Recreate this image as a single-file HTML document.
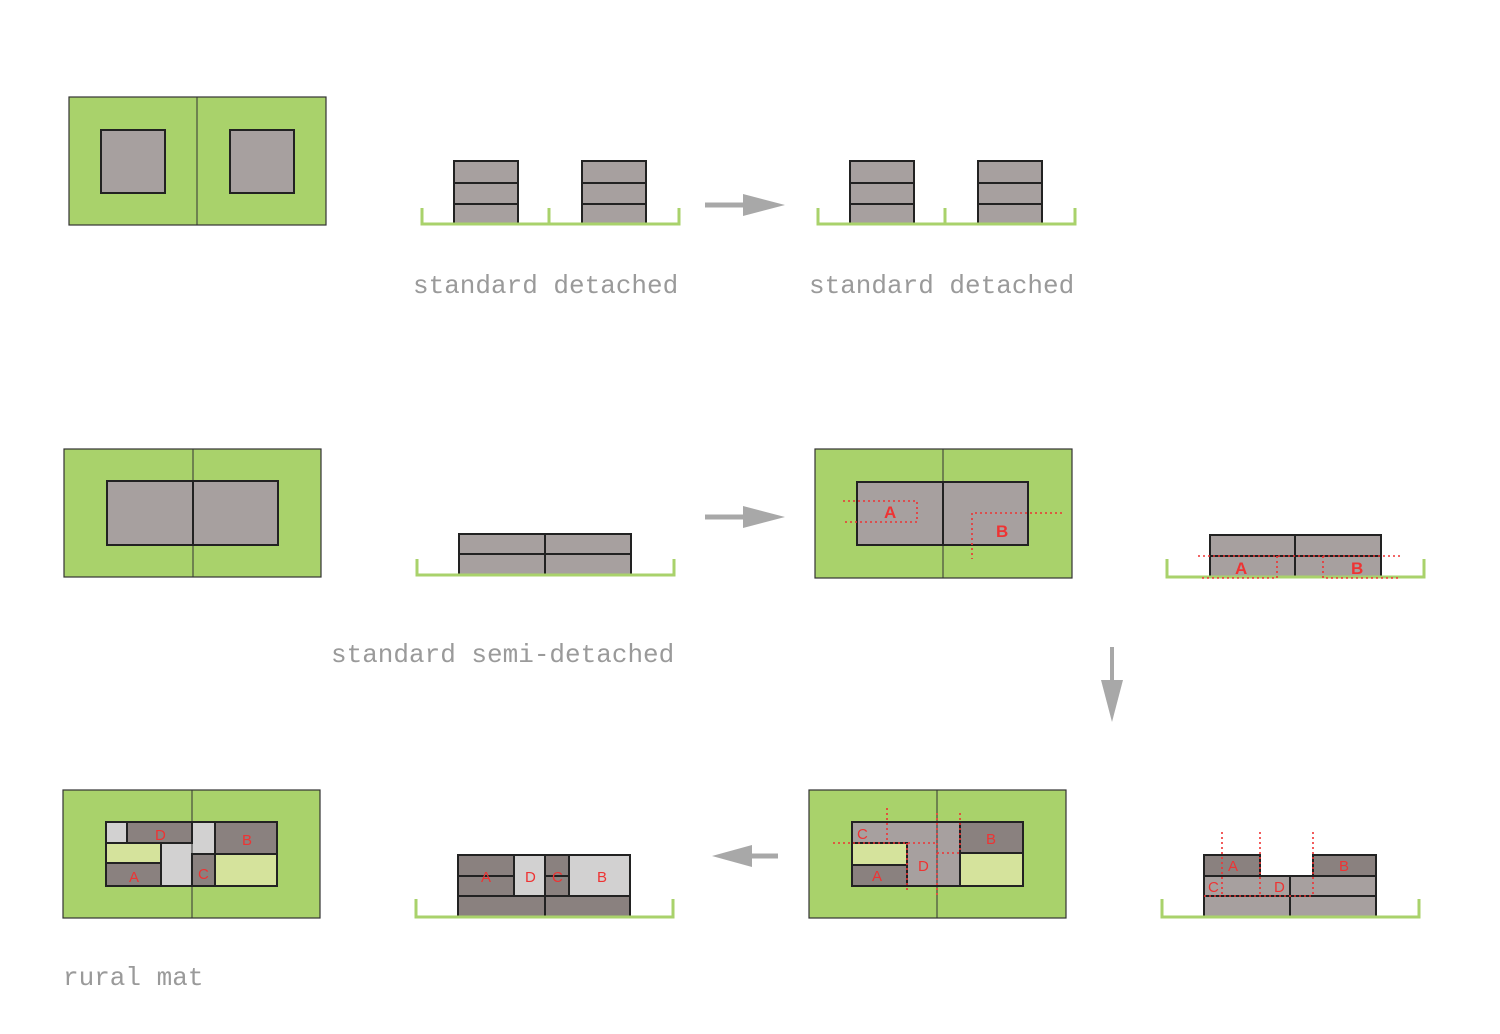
<!DOCTYPE html>
<html><head><meta charset="utf-8"><style>
html,body{margin:0;padding:0;background:#fff;}
svg{display:block;}
.g{fill:#a9d26b;stroke:#333;stroke-width:1.2}
.b{fill:#a7a09f;stroke:#222;stroke-width:2}
.dk{fill:#8a817f}
.lg{fill:#d2d1d1}
.pg{fill:#d5e39c}
.gl{fill:none;stroke:#a9d26b;stroke-width:3}
.ln{stroke:#222;stroke-width:2;fill:none}
.th{stroke:#333;stroke-width:1;fill:none}
.rd{stroke:#ee3333;stroke-width:1.6;stroke-dasharray:2 3;fill:none}
.t{font-family:"Liberation Mono",monospace;font-size:26px;fill:#9a9a9a}
.L{font-family:"Liberation Sans",sans-serif;font-size:15px;fill:#ee3333}
.LB{font-family:"Liberation Sans",sans-serif;font-size:17px;font-weight:bold;fill:#ee3333}
.ar{fill:#a8a8a8}
</style></head><body>
<svg width="1500" height="1034" viewBox="0 0 1500 1034">
<!-- Row 1 -->
<rect class="g" x="69" y="97" width="257" height="128"/>
<line class="th" x1="197" y1="97" x2="197" y2="225"/>
<rect class="b" x="101" y="130" width="64" height="63"/>
<rect class="b" x="230" y="130" width="64" height="63"/>

<g>
<rect class="b" x="454" y="161" width="64" height="63"/>
<line class="ln" x1="454" y1="183" x2="518" y2="183"/><line class="ln" x1="454" y1="204" x2="518" y2="204"/>
<rect class="b" x="582" y="161" width="64" height="63"/>
<line class="ln" x1="582" y1="183" x2="646" y2="183"/><line class="ln" x1="582" y1="204" x2="646" y2="204"/>
<polyline class="gl" points="422,208 422,224 679,224 679,208"/>
<line class="gl" x1="549" y1="208" x2="549" y2="224"/>
</g>
<g transform="translate(396,0)">
<rect class="b" x="454" y="161" width="64" height="63"/>
<line class="ln" x1="454" y1="183" x2="518" y2="183"/><line class="ln" x1="454" y1="204" x2="518" y2="204"/>
<rect class="b" x="582" y="161" width="64" height="63"/>
<line class="ln" x1="582" y1="183" x2="646" y2="183"/><line class="ln" x1="582" y1="204" x2="646" y2="204"/>
<polyline class="gl" points="422,208 422,224 679,224 679,208"/>
<line class="gl" x1="549" y1="208" x2="549" y2="224"/>
</g>
<rect class="ar" x="705" y="202.5" width="40" height="5"/>
<polygon class="ar" points="743,194 785,205 743,216"/>
<text class="t" x="413" y="293">standard detached</text>
<text class="t" x="809" y="293">standard detached</text>

<!-- Row 2 -->
<rect class="g" x="64" y="449" width="257" height="128"/>
<line class="th" x1="193" y1="449" x2="193" y2="577"/>
<rect class="b" x="107" y="481" width="171" height="64"/>
<line class="ln" x1="193" y1="481" x2="193" y2="545"/>

<rect class="b" x="459" y="534" width="172" height="41"/>
<line class="ln" x1="459" y1="554" x2="631" y2="554"/>
<line class="ln" x1="545" y1="534" x2="545" y2="575"/>
<polyline class="gl" points="417,559 417,575 674,575 674,559"/>

<rect class="ar" x="705" y="514.5" width="40" height="5"/>
<polygon class="ar" points="743,506 785,517 743,528"/>
<text class="t" x="331" y="662">standard semi-detached</text>

<rect class="g" x="815" y="449" width="257" height="129"/>
<line class="th" x1="943" y1="449" x2="943" y2="578"/>
<rect class="b" x="857" y="482" width="171" height="63"/>
<line class="ln" x1="943" y1="482" x2="943" y2="545"/>
<polyline class="rd" points="843,501 917,501 917,522 843,522"/>
<polyline class="rd" points="1062,513 972,513 972,559"/>
<text class="LB" x="884" y="518">A</text>
<text class="LB" x="996" y="537">B</text>

<rect class="b" x="1210" y="535" width="171" height="42"/>
<line class="ln" x1="1210" y1="556" x2="1381" y2="556"/>
<line class="ln" x1="1295" y1="535" x2="1295" y2="577"/>
<polyline class="gl" points="1167,559 1167,577 1424,577 1424,559"/>
<line class="rd" x1="1198" y1="556" x2="1402" y2="556"/>
<polyline class="rd" points="1202,578 1277,578 1277,556"/>
<polyline class="rd" points="1323,556 1323,578 1400,578"/>
<text class="LB" x="1235" y="574">A</text>
<text class="LB" x="1351" y="574">B</text>

<rect class="ar" x="1110" y="647" width="4" height="35"/>
<polygon class="ar" points="1101,680 1123,680 1112,722"/>

<!-- Row 3 -->
<rect class="g" x="63" y="790" width="257" height="128"/>
<rect class="lg" x="106" y="822" width="21" height="21"/>
<rect class="dk" x="127" y="822" width="65" height="21"/>
<rect class="lg" x="192" y="822" width="23" height="32"/>
<rect class="lg" x="161" y="843" width="31" height="43"/>
<rect class="dk" x="192" y="854" width="23" height="32"/>
<rect class="dk" x="215" y="822" width="62" height="32"/>
<rect class="pg" x="215" y="854" width="62" height="32"/>
<rect class="pg" x="106" y="843" width="55" height="20"/>
<rect class="dk" x="106" y="863" width="55" height="23"/>
<line class="th" x1="192" y1="790" x2="192" y2="918"/>
<g class="ln">
<rect x="106" y="822" width="171" height="64"/>
<line x1="127" y1="822" x2="127" y2="843"/>
<polyline points="106,843 192,843 192,822"/>
<line x1="161" y1="843" x2="161" y2="886"/>
<line x1="106" y1="863" x2="161" y2="863"/>
<polyline points="192,886 192,854 215,854"/>
<line x1="215" y1="822" x2="215" y2="886"/>
<line x1="215" y1="854" x2="277" y2="854"/>
</g>
<text class="L" x="155" y="840">D</text>
<text class="L" x="242" y="845">B</text>
<text class="L" x="129" y="882">A</text>
<text class="L" x="198" y="879">C</text>

<rect class="dk" x="458" y="855" width="172" height="62"/>
<rect class="lg" x="514" y="855" width="31" height="41"/>
<rect class="lg" x="569" y="855" width="61" height="41"/>
<g class="ln">
<rect x="458" y="855" width="172" height="62"/>
<line x1="458" y1="876" x2="514" y2="876"/>
<line x1="545" y1="876" x2="569" y2="876"/>
<line x1="458" y1="896" x2="630" y2="896"/>
<line x1="514" y1="855" x2="514" y2="896"/>
<line x1="545" y1="855" x2="545" y2="917"/>
<line x1="569" y1="855" x2="569" y2="896"/>
</g>
<polyline class="gl" points="416,899 416,917 673,917 673,899"/>
<text class="L" x="481" y="882">A</text>
<text class="L" x="525" y="882">D</text>
<text class="L" x="552" y="882">C</text>
<text class="L" x="597" y="882">B</text>

<rect class="ar" x="750" y="853.5" width="28" height="5"/>
<polygon class="ar" points="752,845 712,856 752,867"/>

<rect class="g" x="809" y="790" width="257" height="128"/>
<rect class="b" x="852" y="822" width="171" height="64"/>
<rect class="pg" x="852" y="843" width="55" height="22"/>
<rect class="dk" x="852" y="865" width="55" height="21"/>
<rect class="dk" x="960" y="822" width="63" height="31"/>
<rect class="pg" x="960" y="853" width="63" height="33"/>
<line class="th" x1="937" y1="790" x2="937" y2="918"/>
<g class="ln">
<rect x="852" y="822" width="171" height="64"/>
<polyline points="852,843 907,843 907,886"/>
<line x1="852" y1="865" x2="907" y2="865"/>
<line x1="960" y1="822" x2="960" y2="886"/>
<line x1="960" y1="853" x2="1023" y2="853"/>
</g>
<g class="rd">
<line x1="887" y1="808" x2="887" y2="843"/>
<line x1="833" y1="843" x2="937" y2="843"/>
<line x1="907" y1="843" x2="907" y2="893"/>
<line x1="937" y1="813" x2="937" y2="895"/>
<line x1="937" y1="853" x2="960" y2="853"/>
<line x1="960" y1="813" x2="960" y2="853"/>
</g>
<text class="L" x="857" y="839">C</text>
<text class="L" x="918" y="871">D</text>
<text class="L" x="872" y="881">A</text>
<text class="L" x="986" y="844">B</text>

<rect class="b" x="1204" y="876" width="172" height="41"/>
<rect class="dk" x="1204" y="855" width="56" height="21"/>
<rect class="dk" x="1313" y="855" width="63" height="21"/>
<g class="ln">
<rect x="1204" y="855" width="56" height="21"/>
<rect x="1313" y="855" width="63" height="21"/>
<rect x="1204" y="876" width="172" height="41"/>
<line x1="1204" y1="896" x2="1376" y2="896"/>
<line x1="1290" y1="876" x2="1290" y2="917"/>
</g>
<polyline class="gl" points="1162,899 1162,917 1419,917 1419,899"/>
<g class="rd">
<line x1="1222" y1="832" x2="1222" y2="896"/>
<line x1="1260" y1="832" x2="1260" y2="896"/>
<line x1="1313" y1="832" x2="1313" y2="896"/>
<line x1="1204" y1="896" x2="1313" y2="896"/>
</g>
<text class="L" x="1228" y="871">A</text>
<text class="L" x="1339" y="871">B</text>
<text class="L" x="1208" y="892">C</text>
<text class="L" x="1274" y="892">D</text>

<text class="t" x="63" y="985">rural mat</text>
</svg>
</body></html>
